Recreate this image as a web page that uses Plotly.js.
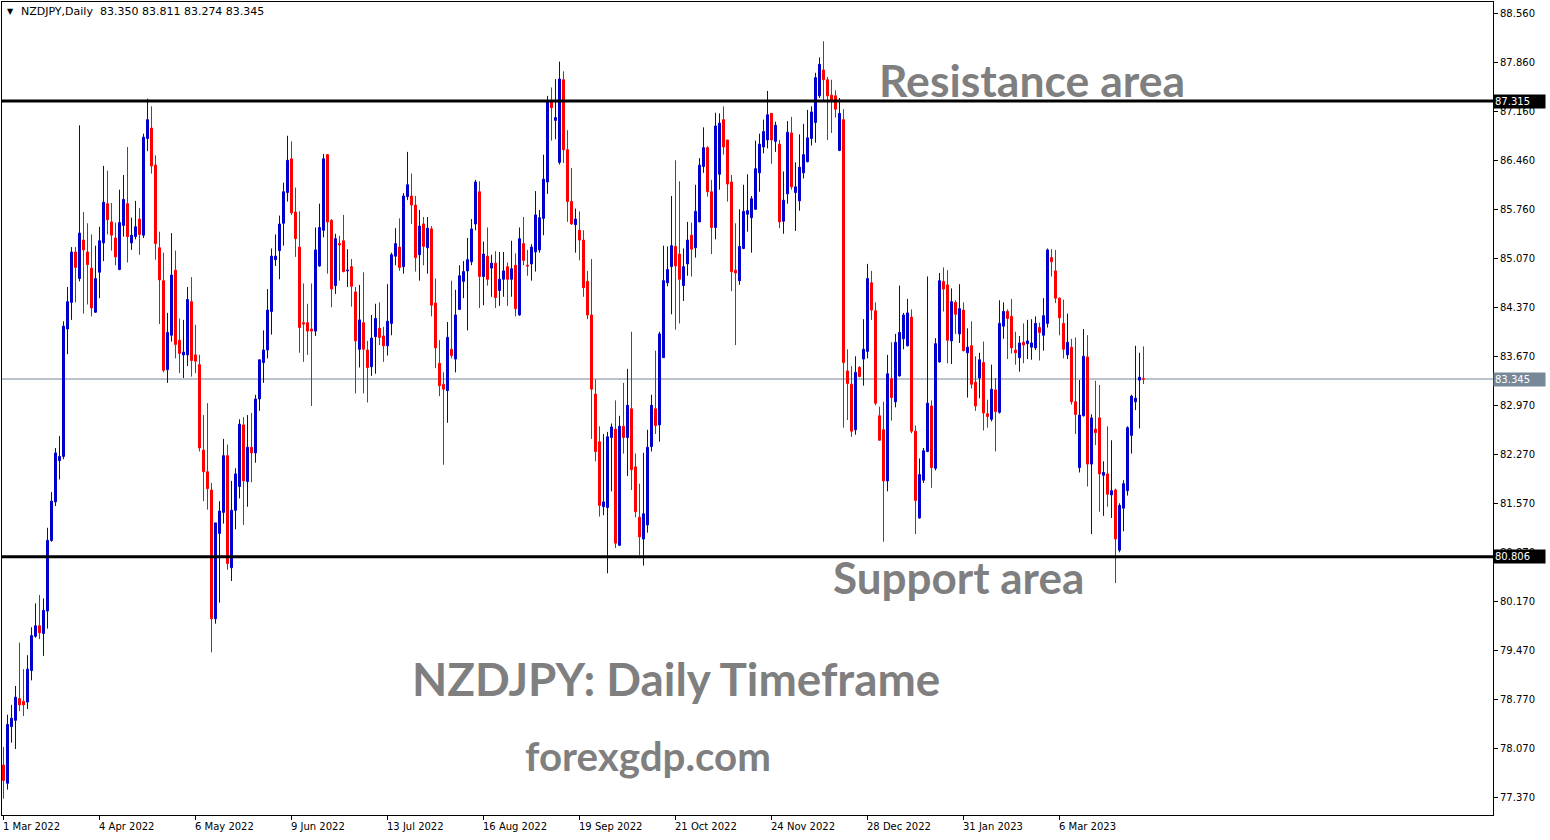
<!DOCTYPE html>
<html><head><meta charset="utf-8">
<script src="https://cdn.plot.ly/plotly-3.0.1.min.js"></script>
<style>html,body{margin:0;padding:0;background:#fff;}#chart{width:1550px;height:840px;}</style>
</head><body><div id="chart"></div>
<script>
const opens = [77.83,77.57,78.38,78.47,78.78,78.74,78.73,79.18,79.67,79.82,79.71,80.03,81.04,81.59,82.18,82.24,84.06,84.44,85.16,84.78,
85.33,85.16,84.93,84.30,84.87,85.29,85.85,85.59,85.36,84.91,85.54,85.85,85.29,85.38,85.63,85.40,86.78,86.93,86.40,85.22,
84.75,83.48,83.97,84.90,83.90,83.69,83.69,84.45,83.69,83.55,82.33,82.02,81.76,79.92,81.14,81.44,82.25,80.65,81.47,81.81,
82.69,81.88,82.37,82.29,83.06,83.58,83.76,84.31,85.05,85.18,85.57,86.01,86.49,85.73,85.23,84.15,84.15,84.06,84.03,84.96,
85.47,86.55,85.61,84.68,85.28,85.32,84.89,84.95,84.59,83.77,84.15,83.76,83.52,83.95,84.07,83.96,83.82,84.14,85.10,85.23,
84.95,85.95,85.96,85.83,85.12,85.56,85.22,85.49,84.43,83.57,83.27,83.18,83.77,83.63,84.34,84.74,84.89,85.02,85.56,86.02,
84.81,85.10,84.93,85.00,84.61,84.77,84.95,84.77,84.97,84.26,85.28,84.97,84.99,85.16,85.19,85.64,86.16,87.32,87.04,86.44,
87.62,86.62,85.88,85.55,85.47,85.33,84.74,84.26,83.13,82.45,81.52,81.51,82.51,82.63,80.97,82.67,82.51,82.92,82.09,81.37,
81.06,81.26,82.38,82.92,82.69,83.65,84.72,84.95,85.24,85.13,84.68,84.99,85.40,85.22,85.59,86.38,86.65,86.02,85.51,86.27,
87.05,86.76,86.16,84.90,84.75,85.21,85.70,85.65,85.77,86.29,86.66,86.76,87.14,86.74,86.70,85.60,85.99,86.86,86.01,85.89,
86.29,86.45,86.78,87.01,87.39,87.76,87.62,87.40,87.39,86.61,87.05,83.46,83.27,82.62,83.51,83.63,83.74,84.72,84.32,82.82,
82.62,81.89,83.35,83.02,83.39,83.92,83.82,84.23,82.60,81.36,81.90,82.31,82.96,82.07,83.59,84.74,84.69,83.89,84.44,83.99,
84.33,83.72,83.82,83.30,83.36,83.58,82.85,82.77,83.19,82.87,84.10,84.31,84.24,83.76,83.65,83.87,83.85,83.80,83.79,84.08,
83.97,84.14,85.08,84.89,84.50,84.14,83.69,83.80,83.02,82.08,82.82,83.66,82.13,82.63,82.79,81.97,81.99,81.69,81.76,80.90,
81.50,81.75,82.54,83.02,83.33,83.350];
const highs = [78.09,78.55,78.69,78.96,79.58,79.20,79.40,79.80,80.14,80.26,80.21,81.22,81.73,82.36,82.53,84.17,84.66,85.23,85.23,86.97,
85.73,85.57,85.41,85.25,85.52,86.39,86.32,85.86,85.58,86.05,86.26,86.66,85.65,85.89,85.79,86.85,87.35,87.24,86.54,85.45,
85.15,84.29,85.43,85.18,84.21,84.19,84.66,84.80,84.12,83.69,82.83,83.00,81.86,81.29,81.60,82.49,82.41,81.89,82.07,82.77,
82.80,82.83,82.86,83.12,83.62,84.04,84.63,85.21,85.41,85.68,86.15,86.82,86.74,86.08,85.74,84.71,84.42,84.71,85.51,85.85,
86.56,86.56,85.63,85.42,85.39,85.69,85.20,85.06,84.66,84.69,84.87,83.89,84.26,84.42,84.44,84.09,84.70,85.15,85.50,85.64,
86.00,86.59,86.28,85.96,85.76,85.66,85.66,85.53,84.78,83.90,83.44,84.16,84.75,84.62,84.97,85.03,85.36,85.63,86.19,86.17,
85.31,85.51,85.12,85.17,85.16,85.16,85.01,85.32,85.14,85.51,85.66,85.19,85.27,86.03,85.76,86.55,87.39,87.51,87.63,87.88,
87.74,86.90,86.36,85.78,85.74,85.47,84.89,85.06,83.34,82.67,82.56,82.59,82.71,83.04,82.82,83.29,83.49,84.02,82.28,81.85,
82.29,82.62,83.12,83.75,84.02,85.25,85.24,85.96,86.47,86.17,85.21,85.59,85.58,86.12,86.50,86.94,86.67,86.19,87.15,87.14,
87.24,86.76,86.26,85.57,85.77,86.12,86.27,85.96,86.75,86.85,87.05,87.46,87.14,87.02,86.76,86.31,87.03,87.09,86.44,86.84,
86.99,87.19,87.24,87.72,87.94,88.17,87.66,87.62,87.47,87.36,87.20,83.77,83.53,83.67,83.53,84.20,84.99,84.89,84.44,82.95,
83.02,83.69,83.87,83.99,84.68,84.29,84.49,84.34,82.68,82.21,82.36,84.81,83.04,83.93,84.86,84.94,84.90,84.64,84.47,84.70,
84.44,84.07,84.17,83.67,83.72,83.88,83.05,83.55,83.36,84.47,84.44,84.34,84.49,84.02,83.96,84.14,84.19,84.20,84.24,84.15,
84.50,85.21,85.20,85.19,84.51,84.48,84.28,83.92,83.94,83.33,84.06,83.97,82.84,83.32,83.26,82.17,82.67,82.47,81.78,81.57,
81.90,82.67,83.12,83.82,83.72,83.811];
const lows = [77.35,77.48,78.15,78.06,78.60,78.53,78.63,79.04,79.65,79.63,79.39,79.78,81.02,81.53,81.91,82.20,83.70,84.19,84.44,84.74,
84.28,84.41,84.24,84.29,84.50,85.03,85.41,85.18,84.97,84.90,85.38,85.01,85.19,85.34,85.12,85.36,86.60,86.28,85.05,84.13,
83.44,83.29,83.88,83.64,83.43,83.36,83.53,83.38,83.43,82.31,81.60,81.48,79.44,79.85,80.15,81.28,80.62,80.46,81.20,81.64,
81.26,81.52,81.87,82.15,82.89,83.29,83.64,83.98,84.96,84.77,85.25,85.88,85.69,85.09,83.72,83.59,83.69,82.96,83.96,84.95,
85.37,84.85,84.37,84.56,84.75,84.87,84.66,84.38,83.14,83.51,83.14,83.01,83.39,83.42,83.83,83.59,83.68,83.97,84.97,84.89,
84.85,85.90,85.56,84.88,84.75,84.97,84.85,84.24,83.50,83.10,82.12,82.72,83.64,83.44,84.33,84.50,84.04,84.97,85.47,84.36,
84.40,84.68,84.52,84.36,84.39,84.52,84.39,84.52,84.24,84.25,84.97,84.82,84.75,84.88,85.15,85.40,85.99,86.75,86.77,86.41,
86.43,85.59,85.55,85.15,85.04,84.52,84.20,82.49,82.17,81.38,81.40,80.57,81.74,80.93,80.96,82.28,81.96,81.76,81.37,80.83,
80.68,81.15,82.31,82.56,82.45,83.65,84.67,84.27,84.05,84.14,84.46,84.82,84.81,85.08,85.59,86.29,85.95,85.13,85.34,86.05,
86.55,85.88,84.60,83.83,84.69,85.20,85.45,85.15,85.76,86.02,86.57,86.64,86.42,86.59,85.50,85.42,85.85,86.05,85.46,85.75,
86.21,86.44,86.68,86.72,87.36,87.32,86.76,86.86,87.08,86.60,82.65,82.76,82.52,82.55,83.37,83.25,83.64,84.19,82.97,82.47,
81.02,81.74,82.75,82.94,83.38,83.77,83.81,82.57,81.13,81.35,81.86,82.30,81.79,82.04,83.58,84.31,83.57,83.56,83.99,83.86,
83.74,83.08,83.21,82.89,83.07,82.61,82.65,82.74,82.31,82.85,83.92,83.63,83.71,83.55,83.45,83.57,83.63,83.62,83.76,83.61,
83.75,84.08,84.81,84.43,83.97,83.64,83.63,82.98,82.56,82.01,82.81,81.81,81.13,82.40,81.45,81.39,81.52,81.36,80.43,80.87,
81.17,81.68,82.28,82.90,82.64,83.274];
const closes = [77.61,78.41,78.50,78.80,78.69,78.69,79.20,79.68,79.82,79.72,80.04,81.04,81.60,82.29,82.24,84.10,84.45,85.16,84.94,85.43,
85.19,84.98,84.36,84.78,85.32,85.87,85.62,85.40,85.09,85.58,85.91,85.38,85.40,85.52,85.41,86.80,87.05,86.39,85.28,84.76,
83.47,84.01,84.83,83.84,83.71,83.73,84.48,83.61,83.60,82.36,82.02,81.78,79.92,81.29,81.46,82.25,80.71,81.47,81.99,82.70,
81.89,82.37,82.29,83.06,83.62,83.76,84.33,85.10,85.10,85.56,86.02,86.47,85.72,85.35,84.08,84.13,84.03,84.03,85.19,85.51,
86.49,85.59,84.63,85.35,85.26,84.88,84.90,84.67,83.89,84.19,83.77,83.51,83.93,84.21,83.94,83.82,84.17,85.12,85.28,84.94,
85.96,86.12,85.83,85.08,85.53,85.24,85.50,84.40,83.79,83.25,83.20,83.94,83.68,84.26,84.82,84.88,85.05,85.49,86.16,84.81,
85.13,84.77,85.00,84.51,84.77,84.89,84.77,84.92,84.35,85.35,85.04,84.96,85.23,85.69,85.65,86.20,87.31,87.22,87.08,87.63,
86.62,85.88,85.56,85.63,85.33,84.65,84.26,83.20,82.31,81.54,81.59,82.52,82.66,81.00,82.67,82.51,82.97,82.05,81.45,81.09,
81.42,82.37,82.97,82.68,83.99,84.75,84.91,85.25,84.96,84.77,84.95,85.33,85.20,85.74,86.40,86.65,86.02,85.51,86.96,87.00,
86.66,86.13,84.88,84.86,85.24,85.74,85.75,85.92,86.35,86.70,86.88,87.12,86.76,86.97,85.59,85.90,86.87,86.09,86.09,86.37,
86.55,86.79,87.16,87.65,87.84,87.62,87.39,87.32,87.20,87.14,83.58,83.28,82.60,83.44,83.38,83.77,84.78,84.33,83.00,82.47,
81.89,83.42,83.08,83.87,84.01,84.26,84.29,82.60,81.61,81.98,82.32,83.00,82.08,83.85,84.75,84.63,83.90,84.45,84.27,84.35,
83.75,83.80,83.27,82.96,83.62,82.86,82.81,83.20,82.88,84.14,84.31,84.21,83.79,83.72,83.86,83.83,83.89,83.86,84.14,84.01,
84.25,85.19,85.02,84.50,84.22,83.77,83.87,83.02,82.84,82.83,83.67,82.13,82.79,82.58,81.99,82.01,81.70,81.75,81.06,81.54,
81.85,82.65,83.10,83.07,83.37,83.345];

const dateTickIndex = [0,24,48,72,96,120,144,168,192,216,240,264];
const dateTickLabels = ['1 Mar 2022','4 Apr 2022','6 May 2022','9 Jun 2022','13 Jul 2022','16 Aug 2022','19 Sep 2022','21 Oct 2022','24 Nov 2022','28 Dec 2022','31 Jan 2023','6 Mar 2023'];
const priceTicks = [88.56,87.86,87.16,86.46,85.76,85.07,84.37,83.67,82.97,82.27,81.57,80.87,80.17,79.47,78.77,78.07,77.37];
const priceTickLabels = ['88.560','87.860','87.160','86.460','85.760','85.070','84.370','83.670','82.970','82.270','81.570','80.870','80.170','79.470','78.770','78.070','77.370'];
const resistanceLevel = 87.315;
const supportLevel = 80.806;
const lastPrice = 83.345;
const headerText = 'NZDJPY,Daily\u00a0\u00a083.350 83.811 83.274 83.345';

const barIndex = opens.map((_, i) => i);
const uiFont = 'DejaVu Sans';
const bigFont = 'Lato';
const gray = '#7f7f7f';

const trace = {
  type: 'candlestick',
  x: barIndex, open: opens, high: highs, low: lows, close: closes,
  increasing: {line: {color: '#0000cc', width: 1}, fillcolor: '#0000cc'},
  decreasing: {line: {color: '#ff0000', width: 1}, fillcolor: '#ff0000'},
  whiskerwidth: 0, hoverinfo: 'skip', showlegend: false
};

const annotations = [];
dateTickIndex.forEach((v, k) => annotations.push({
  x: v, xref: 'x', y: 0, yref: 'paper', yanchor: 'top', xanchor: 'left', xshift: -3, yshift: -4,
  text: dateTickLabels[k], showarrow: false, font: {family: uiFont, size: 10, color: '#000'}
}));
function priceBox(val, txt, bg) {
  return {x: 1, xref: 'paper', y: val, yref: 'y', xanchor: 'left', yanchor: 'middle', xshift: 0,
    text: txt, showarrow: false, bgcolor: bg, borderpad: 1, width: 49, align: 'left',
    font: {family: uiFont, size: 10, color: '#fff'}};
}
annotations.push(priceBox(resistanceLevel, resistanceLevel.toFixed(3), '#000'));
annotations.push(priceBox(lastPrice, lastPrice.toFixed(3), '#778899'));
annotations.push(priceBox(supportLevel, supportLevel.toFixed(3), '#000'));
annotations.push({x: 0.0055, xref: 'paper', y: 0.9885, yref: 'paper', xanchor: 'center', yanchor: 'middle',
  text: '▼', showarrow: false, font: {family: uiFont, size: 8, color: '#000'}});
annotations.push({x: 0.0115, xref: 'paper', y: 0.9885, yref: 'paper', xanchor: 'left', yanchor: 'middle',
  text: headerText, showarrow: false, font: {family: uiFont, size: 11, color: '#000'}});
function bigText(txt, cx, cy, size) {
  return {x: (cx - 2) / 1491, xref: 'paper', y: (815 - cy) / 813, yref: 'paper', xanchor: 'center', yanchor: 'middle',
    text: '<b>' + txt + '</b>', showarrow: false, font: {family: bigFont, size: size, color: gray}};
}
annotations.push(bigText('Resistance area', 1031.5, 79, 44.5));
annotations.push(bigText('Support area', 958, 577, 44));
annotations.push(bigText('NZDJPY: Daily Timeframe', 675.5, 678, 45.8));
annotations.push(bigText('forexgdp.com', 648, 755, 40.3));

const shapes = [
  {type: 'line', xref: 'paper', x0: 0, x1: 1, yref: 'y', y0: lastPrice, y1: lastPrice, line: {color: '#778899', width: 1}, layer: 'below'},
  {type: 'line', xref: 'paper', x0: 0, x1: 1, yref: 'y', y0: resistanceLevel, y1: resistanceLevel, line: {color: '#000', width: 3}},
  {type: 'line', xref: 'paper', x0: 0, x1: 1, yref: 'y', y0: supportLevel, y1: supportLevel, line: {color: '#000', width: 3}}
];

const layout = {
  width: 1550, height: 840,
  margin: {l: 2, r: 57, t: 2, b: 25},
  paper_bgcolor: '#fff', plot_bgcolor: '#fff',
  boxgap: 0.5, boxgroupgap: 0,
  showlegend: false,
  xaxis: {range: [-0.375, 372.375], rangeslider: {visible: false}, showgrid: false, zeroline: false,
    showline: true, mirror: true, linecolor: '#000', linewidth: 1,
    tickmode: 'array', tickvals: dateTickIndex, ticktext: dateTickLabels, showticklabels: false,
    ticks: 'outside', ticklen: 4, tickcolor: '#000', fixedrange: true},
  yaxis: {range: [77.117, 88.731], side: 'right', showgrid: false, zeroline: false,
    showline: true, mirror: true, linecolor: '#000', linewidth: 1,
    tickmode: 'array', tickvals: priceTicks, ticktext: priceTickLabels,
    ticks: 'outside', ticklen: 4, tickcolor: '#000',
    tickfont: {family: uiFont, size: 10, color: '#000'}, fixedrange: true},
  annotations: annotations,
  shapes: shapes
};

Plotly.newPlot('chart', [trace], layout, {displayModeBar: false, staticPlot: true});
</script>
</body></html>
